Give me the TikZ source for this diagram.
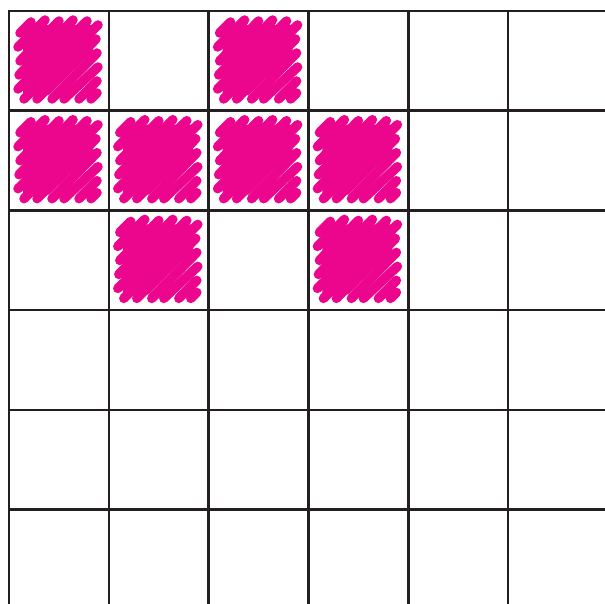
\documentclass[tikz,border=0pt]{standalone}
\definecolor{ink}{HTML}{231F20}
\definecolor{mag}{HTML}{EC068D}
\tikzset{
  gridline/.style={draw=ink, line width=2.6pt},
  scribstroke/.style={draw=mag, line width=9.5pt, line cap=round},
}
\newcommand{\scribcell}[2]{%
  \begin{scope}[shift={(9+99.8*#1,11+99.7*#2)}]
    \fill[mag] (14,14) -- (84,14) -- (84,40) -- (40,84) -- (14,84) -- cycle;
    \foreach \c/\a/\b in {32/1/-1,46/-1/1,60/1/0,74/0/1,88/-1/0,102/1/1,116/0/-1,130/1/0,144/-1/1,158/0/0,170/0/0}{%
      \pgfmathsetmacro{\sx}{(\c<=98)?10+\a:(\c-88+\a)}%
      \pgfmathsetmacro{\sy}{(\c<=98)?(\c-10):88}%
      \pgfmathsetmacro{\ex}{(\c<=98)?(\c-10):88+\b}%
      \pgfmathsetmacro{\ey}{(\c<=98)?10-\b:(\c-88)}%
      \draw[scribstroke] (\sx,\sy) -- (\ex,\ey);
    }
  \end{scope}}
\begin{document}
\begin{tikzpicture}[x=1pt,y=-1pt]
\useasboundingbox (0,0) rectangle (605,604);
\fill[white] (0,0) rectangle (605,604);
\scribcell{0}{0}
\scribcell{2}{0}
\scribcell{0}{1}
\scribcell{1}{1}
\scribcell{2}{1}
\scribcell{3}{1}
\scribcell{1}{2}
\scribcell{3}{2}
\foreach \i in {0,...,5}{
  \draw[gridline] (9+99.8*\i,9.7) -- (9+99.8*\i,606);
  \draw[gridline] (7.7,11+99.7*\i) -- (607,11+99.7*\i);
}
\end{tikzpicture}
\end{document}
